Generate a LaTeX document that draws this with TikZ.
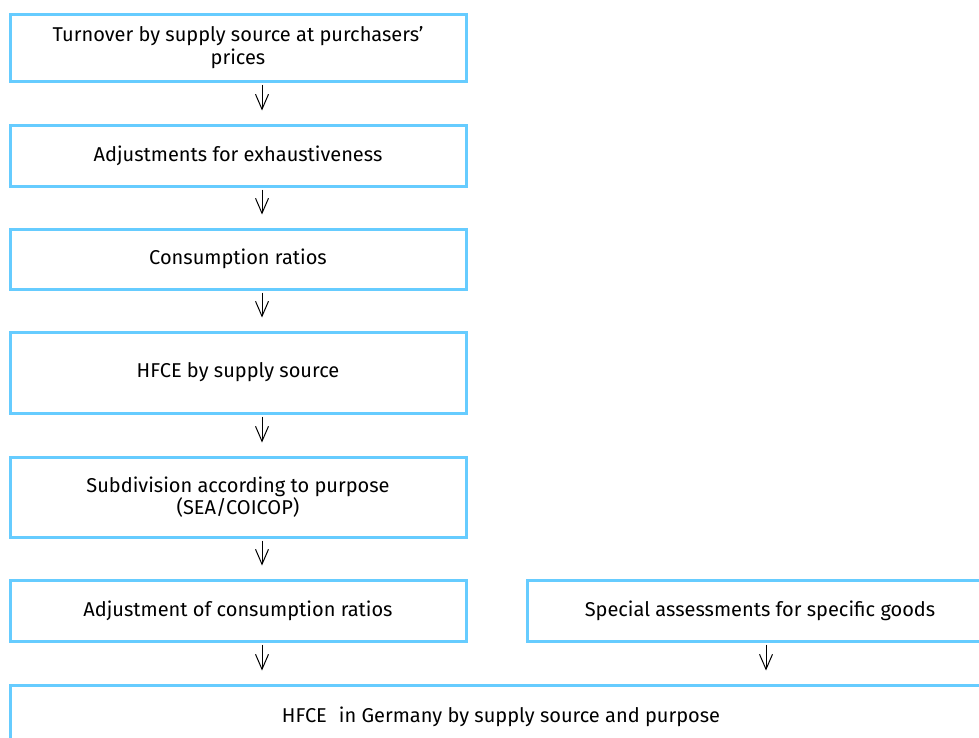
\documentclass[tikz,border=0pt]{standalone}
\usepackage{fontspec}
\setmainfont{Fira Sans}
\usetikzlibrary{arrows.meta}
\definecolor{boxblue}{RGB}{102,204,255}
\tikzset{
  x=1pt, y=-1pt,
  stagebox/.style={draw=boxblue, line width=3pt, minimum width=456pt,
    align=center, inner sep=0pt, font=\fontsize{20}{22.5}\selectfont},
  flow/.style={-{Straight Barb[length=15pt,width=13pt]}, line width=1pt, black}
}
\begin{document}
\begin{tikzpicture}
\useasboundingbox (0,0) rectangle (979,737);
\clip (0,0) rectangle (979,737);
\fill[white] (0,0) rectangle (979,737);

% left column of processing stages
\node[stagebox, minimum height=67pt] (b1) at (238,47.5)
  {\raisebox{-3pt}{\parbox{400pt}{\centering Turnover by supply source at purchasers’\\prices}}};
\node[stagebox, minimum height=61pt] (b2) at (238,155.5)
  {Adjustments for exhaustiveness};
\node[stagebox, minimum height=60pt] (b3) at (238,259)
  {Consumption ratios};
\node[stagebox, minimum height=81pt] (b4) at (238,372.5)
  {HFCE by supply source};
\node[stagebox, minimum height=80pt] (b5) at (238,497)
  {Subdivision according to purpose\\(SEA/COICOP)};
\node[stagebox, minimum height=61pt] (b6) at (238,610.5)
  {Adjustment of consumption ratios};

% right column
\node[stagebox, minimum width=466pt, minimum height=61pt] (b7) at (760,610.5)
  {Special assessments for specific goods};

% final result
\node[stagebox, minimum width=982pt, minimum height=64pt] (b8) at (501,717)
  {HFCE\hspace{0.6em}in Germany by supply source and purpose};

% arrow columns
\coordinate (colL) at (262,0);
\coordinate (colR) at (766,0);

% connectors
\foreach \a/\b in {b1/b2, b2/b3, b3/b4, b4/b5, b5/b6, b6/b8}
  \draw[flow] ([yshift=-2pt]\a.south -| colL) -- ([yshift=13pt]\b.north -| colL);
\draw[flow] ([yshift=-2pt]b7.south -| colR) -- ([yshift=13pt]b8.north -| colR);
\end{tikzpicture}
\end{document}
